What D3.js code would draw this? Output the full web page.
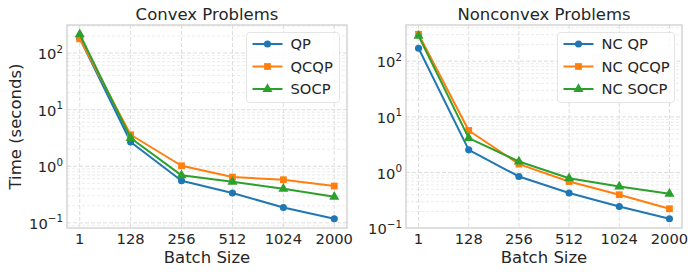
<!DOCTYPE html>
<html>
<head>
<meta charset="utf-8">
<script src="https://cdn.jsdelivr.net/npm/d3@7"></script>
<style>
  body { margin: 0; background: #fff; }
  svg { display: block; font-family: "DejaVu Sans", sans-serif; }
</style>
</head>
<body>
<div id="chart"></div>
<script>
const batchSizes = ["1", "128", "256", "512", "1024", "2000"]

// Convex problems (seconds)
const convexQP = [182, 2.68, 0.555, 0.336, 0.187, 0.118]
const convexQCQP = [178, 3.6, 1.02, 0.644, 0.577, 0.447]
const convexSOCP = [215, 3.15, 0.69, 0.532, 0.40, 0.289]

// Nonconvex problems (seconds)
const nonconvexQP = [171, 2.56, 0.85, 0.43, 0.245, 0.148]
const nonconvexQCQP = [305, 5.7, 1.42, 0.69, 0.40, 0.224]
const nonconvexSOCP = [285, 4.15, 1.58, 0.79, 0.56, 0.415]

const COLORS = { blue: "#1f77b4", orange: "#ff7f0e", green: "#2ca02c" }

const panels = [
  {
    title: "Convex Problems",
    left: 67, right: 347, legW: 93,
    series: [
      { name: "QP", values: convexQP, color: COLORS.blue, marker: "circle" },
      { name: "QCQP", values: convexQCQP, color: COLORS.orange, marker: "square" },
      { name: "SOCP", values: convexSOCP, color: COLORS.green, marker: "triangle" },
    ],
    yLabel: "Time (seconds)",
  },
  {
    title: "Nonconvex Problems",
    left: 406, right: 682, legW: 117,
    series: [
      { name: "NC QP", values: nonconvexQP, color: COLORS.blue, marker: "circle" },
      { name: "NC QCQP", values: nonconvexQCQP, color: COLORS.orange, marker: "square" },
      { name: "NC SOCP", values: nonconvexSOCP, color: COLORS.green, marker: "triangle" },
    ],
    yLabel: null,
  },
]

const width = 698
const height = 274
const plotTop = 25
const plotBottom = 228

const svg = d3.select("#chart").append("svg")
  .attr("width", width)
  .attr("height", height)

function markerPath(type) {
  if (type === "circle") return d3.symbol(d3.symbolCircle, 40)()
  if (type === "square") return d3.symbol(d3.symbolSquare, 46)()
  return d3.symbol(d3.symbolTriangle, 44)()
}

panels.forEach(p => {
  const g = svg.append("g")

  const x = d3.scalePoint()
    .domain(batchSizes)
    .range([p.left, p.right])
    .padding(0.25)

  // log autoscale with 5% margin (matplotlib style)
  const all = p.series.flatMap(s => s.values)
  const lo = Math.log10(d3.min(all))
  const hi = Math.log10(d3.max(all))
  const m = (hi - lo) * 0.05
  const y = d3.scaleLog()
    .domain([Math.pow(10, lo - m), Math.pow(10, hi + m)])
    .range([plotBottom, plotTop])

  // minor grid
  const minor = []
  for (let e = -2; e <= 3; e++) {
    for (let k = 2; k <= 9; k++) {
      const v = k * Math.pow(10, e)
      if (v >= y.domain()[0] && v <= y.domain()[1]) minor.push(v)
    }
  }
  g.append("g").selectAll("line")
    .data(minor)
    .join("line")
    .attr("x1", p.left).attr("x2", p.right)
    .attr("y1", d => y(d)).attr("y2", d => y(d))
    .attr("stroke", "#e4e4e4")
    .attr("stroke-width", 0.7)
    .attr("stroke-dasharray", "3,2")

  // major grid
  const majors = [0.1, 1, 10, 100].filter(v => v >= y.domain()[0] && v <= y.domain()[1])
  g.append("g").selectAll("line")
    .data(majors)
    .join("line")
    .attr("x1", p.left).attr("x2", p.right)
    .attr("y1", d => y(d)).attr("y2", d => y(d))
    .attr("stroke", "#d9d9d9")
    .attr("stroke-width", 0.9)
    .attr("stroke-dasharray", "4,2")

  g.append("g").selectAll("line")
    .data(batchSizes)
    .join("line")
    .attr("x1", d => x(d)).attr("x2", d => x(d))
    .attr("y1", plotTop).attr("y2", plotBottom)
    .attr("stroke", "#d9d9d9")
    .attr("stroke-width", 0.9)
    .attr("stroke-dasharray", "4,2")

  // frame
  g.append("rect")
    .attr("x", p.left).attr("y", plotTop)
    .attr("width", p.right - p.left).attr("height", plotBottom - plotTop)
    .attr("fill", "none")
    .attr("stroke", "#cccccc")
    .attr("stroke-width", 1.25)

  // y tick labels (10^k)
  const yt = g.append("g").selectAll("text")
    .data([0.1, 1, 10, 100])
    .join("text")
    .attr("x", p.left - 4)
    .attr("y", d => y(d) + 6)
    .attr("text-anchor", "end")
    .attr("font-size", 14.7)
    .attr("fill", "#262626")
  yt.append("tspan").text("10")
  yt.append("tspan")
    .attr("dy", -6.5)
    .attr("font-size", 10.3)
    .text(d => d3.format("d")(Math.round(Math.log10(d))).replace("-", "\u2212"))

  // x tick labels
  g.append("g").selectAll("text")
    .data(batchSizes)
    .join("text")
    .attr("x", d => x(d))
    .attr("y", 244)
    .attr("text-anchor", "middle")
    .attr("font-size", 14.7)
    .attr("fill", "#262626")
    .text(d => d)

  // x label
  g.append("text")
    .attr("x", (p.left + p.right) / 2)
    .attr("y", 263)
    .attr("text-anchor", "middle")
    .attr("font-size", 16.5)
    .attr("fill", "#262626")
    .text("Batch Size")

  // title
  g.append("text")
    .attr("x", (p.left + p.right) / 2)
    .attr("y", 20)
    .attr("text-anchor", "middle")
    .attr("font-size", 16.5)
    .attr("fill", "#262626")
    .text(p.title)

  if (p.yLabel) {
    g.append("text")
      .attr("transform", `translate(21,${(plotTop + plotBottom) / 2}) rotate(-90)`)
      .attr("text-anchor", "middle")
      .attr("font-size", 16.5)
      .attr("fill", "#262626")
      .text(p.yLabel)
  }

  // lines + markers
  const line = d3.line()
    .x((d, i) => x(batchSizes[i]))
    .y(d => y(d))

  p.series.forEach(s => {
    g.append("path")
      .datum(s.values)
      .attr("d", line)
      .attr("fill", "none")
      .attr("stroke", s.color)
      .attr("stroke-width", 2)
      .attr("stroke-linejoin", "round")

    g.append("g").selectAll("path")
      .data(s.values)
      .join("path")
      .attr("d", markerPath(s.marker))
      .attr("transform", (d, i) => `translate(${x(batchSizes[i])},${y(d)})`)
      .attr("fill", s.color)
  })

  // legend (upper right)
  const legX = p.right - 7.5 - p.legW
  const legY = plotTop + 7.5
  const leg = g.append("g")
  leg.append("rect")
    .attr("x", legX).attr("y", legY)
    .attr("width", p.legW).attr("height", 70)
    .attr("rx", 3)
    .attr("fill", "#fff")
    .attr("fill-opacity", 0.85)
    .attr("stroke", "#cccccc")
    .attr("stroke-opacity", 0.5)
  p.series.forEach((s, i) => {
    const ry = 44 + i * 22.5
    const lx = legX + 6
    leg.append("line")
      .attr("x1", lx).attr("x2", lx + 30)
      .attr("y1", ry).attr("y2", ry)
      .attr("stroke", s.color)
      .attr("stroke-width", 2)
    leg.append("path")
      .attr("d", markerPath(s.marker))
      .attr("transform", `translate(${lx + 15},${ry})`)
      .attr("fill", s.color)
    leg.append("text")
      .attr("x", lx + 38)
      .attr("y", ry + 5.3)
      .attr("font-size", 14.7)
      .attr("fill", "#262626")
      .text(s.name)
  })
})
</script>
</body>
</html>
